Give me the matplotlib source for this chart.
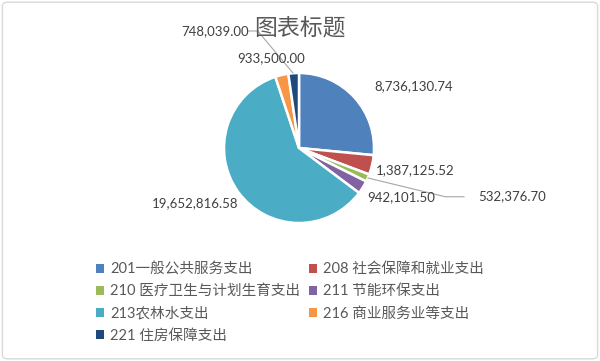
import matplotlib.pyplot as plt
from matplotlib.patches import FancyBboxPatch, Patch

plt.rcParams['font.family'] = ['Lato', 'Noto Sans CJK SC', 'DejaVu Sans']

categories = ["201一般公共服务支出", "208 社会保障和就业支出", "210 医疗卫生与计划生育支出",
              "211 节能环保支出", "213农林水支出", "216 商业服务业等支出", "221 住房保障支出"]
values = [8736130.74, 1387125.52, 532376.70, 942101.50, 19652816.58, 933500.00, 748039.00]
value_labels = ["8,736,130.74", "1,387,125.52", "532,376.70", "942,101.50",
                "19,652,816.58", "933,500.00", "748,039.00"]
colors = ["#4F81BD", "#C0504D", "#9BBB59", "#8064A2", "#4BACC6", "#F79646", "#1F497D"]

# label positions (data units, pie radius = 1)
label_pos = [(1.53, 0.83), (1.55, -0.29), (2.84, -0.64), (1.36, -0.65),
             (-1.39, -0.73), (-0.37, 1.20), (-1.12, 1.56)]

fig = plt.figure(figsize=(6, 3.61), dpi=100)
fig.patch.set_facecolor("white")

border = FancyBboxPatch((0.004, 0.006), 0.992, 0.988, boxstyle="round,pad=0,rounding_size=0.01",
                        transform=fig.transFigure, facecolor="none", edgecolor="#D9D9D9", lw=1)
fig.patches.append(border)

ax = fig.add_axes([224 / 600, (361 - 223) / 361, 150 / 600, 150 / 361])
wedges, _ = ax.pie(values, colors=colors, startangle=90, counterclock=False, radius=1,
                   wedgeprops=dict(edgecolor="white", linewidth=1.8))
ax.set_xlim(-1, 1)
ax.set_ylim(-1, 1)
ax.set_aspect("equal")
ax.axis("off")

for (x, y), txt in zip(label_pos, value_labels):
    ax.text(x, y, txt, ha="center", va="center", fontsize=9.5, color="#404040", clip_on=False)

# leader lines
ax.plot([-0.67, -0.55, -0.08], [1.56, 1.56, 1.0], color="#A6A6A6", lw=0.8, clip_on=False)
ax.plot([2.2, 1.95, 0.92], [-0.65, -0.65, -0.40], color="#A6A6A6", lw=0.8, clip_on=False)

fig.text(0.5, 1 - 28 / 361, "图表标题", ha="center", va="center", fontsize=16.5, color="#595959",
         family=["Noto Sans CJK SC"])

# legend, column-major order to match row-wise layout
order = [0, 2, 4, 6, 1, 3, 5]
handles = [Patch(facecolor=colors[i], edgecolor="none") for i in order]
labels = [categories[i] for i in order]
fig.legend(handles, labels, ncol=2, loc="upper left", bbox_to_anchor=(89 / 600, 1 - 255 / 361),
           frameon=False, fontsize=10.5, labelcolor="#595959", handlelength=0.55, handleheight=0.55,
           handletextpad=0.4, columnspacing=0.6, labelspacing=0.55, borderpad=0)

fig.savefig("out.png", dpi=100)
